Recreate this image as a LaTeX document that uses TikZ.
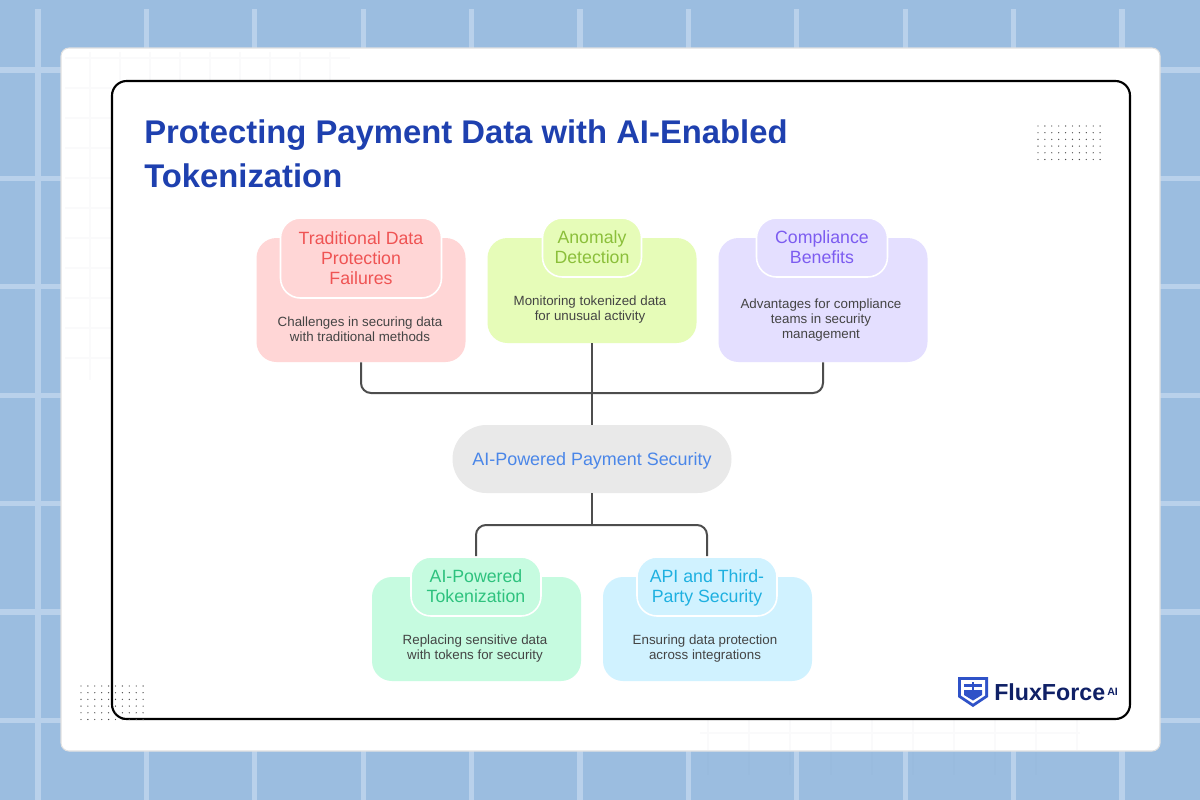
\documentclass[tikz,border=0pt]{standalone}
\usepackage{fontspec}
\setmainfont{Liberation Sans}
\usetikzlibrary{positioning}

\definecolor{bgblue}{HTML}{9BBDE0}
\definecolor{bgline}{HTML}{B9D1EB}
\definecolor{faintline}{HTML}{FAFAFB}
\definecolor{faintblue}{HTML}{99BBDE}
\definecolor{titleblue}{HTML}{1E40AF}
\definecolor{redfill}{HTML}{FFD6D6}
\definecolor{redtext}{HTML}{EF5353}
\definecolor{limefill}{HTML}{E6FCB8}
\definecolor{limetext}{HTML}{8BBF3A}
\definecolor{violetfill}{HTML}{E4DFFF}
\definecolor{violettext}{HTML}{7C5CF0}
\definecolor{mintfill}{HTML}{C6FBE0}
\definecolor{minttext}{HTML}{2EC27E}
\definecolor{skyfill}{HTML}{D0F2FF}
\definecolor{skytext}{HTML}{1EB0E0}
\definecolor{corefill}{HTML}{E9E9E9}
\definecolor{coretext}{HTML}{4A86E8}
\definecolor{desctext}{HTML}{444444}
\definecolor{linkgray}{HTML}{4D4D4D}
\definecolor{logoblue}{HTML}{2F52C8}
\definecolor{logonavy}{HTML}{0F2066}

\newcommand{\topstrut}{\rule{0pt}{13.4pt}}
\newcommand{\lowstrut}{\rule[-4pt]{0pt}{4pt}}

\tikzset{
    topicbox/.style={rounded corners=15pt, inner sep=0pt, minimum width=156.75pt},
    headbox/.style={rounded corners=15pt, inner sep=0pt, draw=white, line width=1.2pt, minimum height=44.25pt,
        align=center, font=\fontsize{13.3}{15}\selectfont},
    descnode/.style={align=center, inner sep=0pt, text=desctext, font=\fontsize{10}{11.25}\selectfont},
    link/.style={draw=linkgray, line width=1.5pt, rounded corners=7.5pt},
    griddot/.style={fill=black!70, circle, inner sep=0pt, minimum size=1pt}
}

\begin{document}
\begin{tikzpicture}[x=0.75pt,y=-0.75pt]
    \useasboundingbox (0,0) rectangle (1200,800);
    \fill[bgblue] (0,0) rectangle (1200,800);
    \foreach \gx in {38,146.4,254.8,363.2,471.6,580,688.4,796.8,905.2,1013.6,1122}
        \draw[bgline, line width=3.8pt] (\gx,9) -- (\gx,800);
    \foreach \gy in {70,178.4,286.8,395.2,503.6,612,720.4}
        \draw[bgline, line width=3.8pt] (0,\gy) -- (1200,\gy);
    \foreach \gx in {708,749,790,831,872,913,954,995,1036}
        \draw[faintblue, line width=0.8pt] (\gx,752) -- (\gx,775);

    \draw[fill=white, draw=black!12, line width=0.8pt, rounded corners=6pt] (61,48) rectangle (1160,751);
    \foreach \gx in {90,120,150,180,210,240,270,300,330}
        \draw[faintline, line width=0.8pt] (\gx,52) -- (\gx,{\gx<112 ? 380 : 80});
    \foreach \gy in {58,88,118,148,178,208,238,268,298,328,358}
        \draw[faintline, line width=0.8pt] (65,\gy) -- ({\gy<81 ? 350 : 112},\gy);
    \foreach \gx in {708,749,790,831,872,913,954,995,1036,1077}
        \draw[faintline, line width=0.8pt] (\gx,720) -- (\gx,750);
    \draw[faintline, line width=0.8pt] (700,733) -- (1080,733);

    \draw[draw=black, fill=white, line width=1.6pt, rounded corners=11pt] (112,81) rectangle (1130,719);

    \foreach \dx in {0,...,9}
        \foreach \dy in {0,...,5} {
            \node[griddot] at ({1038+6.9*\dx},{126+6.7*\dy}) {};
            \node[griddot] at ({81+6.9*\dx},{686+6.7*\dy}) {};
        }

    \node[anchor=north west, inner sep=0pt, align=left, text=titleblue,
        font=\fontsize{24.6}{33}\selectfont\bfseries] (title) at (144,119)
        {Protecting Payment Data with AI-Enabled\\Tokenization};

    \node[topicbox, fill=redfill, minimum height=93pt] (failbox) at (361,300) {};
    \node[headbox, fill=redfill, text=redtext, minimum width=120.75pt, minimum height=60pt] (failhead) at (361,258)
        {\topstrut Traditional Data\\Protection\\Failures\lowstrut};
    \node[descnode] (faildesc) at (360,329) {Challenges in securing data\\with traditional methods};

    \node[topicbox, fill=limefill, minimum height=78.75pt] (detectbox) at (592,290.5) {};
    \node[headbox, fill=limefill, text=limetext, minimum width=74.25pt] (detecthead) at (592,247.5)
        {\topstrut Anomaly\\Detection\lowstrut};
    \node[descnode] (detectdesc) at (590,310) {Monitoring tokenized data\\for unusual activity};

    \node[topicbox, fill=violetfill, minimum height=93pt] (complybox) at (823,300) {};
    \node[headbox, fill=violetfill, text=violettext, minimum width=98.25pt] (complyhead) at (822,247.5)
        {\topstrut Compliance\\Benefits\lowstrut};
    \node[descnode] (complydesc) at (821,320) {Advantages for compliance\\teams in security\\management};

    \node[rounded corners=25.5pt, inner sep=0pt, fill=corefill, minimum width=209.25pt, minimum height=51pt,
        text=coretext, text height=9pt, text depth=0pt, font=\fontsize{13.45}{15}\selectfont] (core) at (592,459)
        {AI-Powered Payment Security};

    \node[topicbox, fill=mintfill, minimum height=78pt] (tokenbox) at (476.5,629) {};
    \node[headbox, fill=mintfill, text=minttext, minimum width=97.5pt] (tokenhead) at (476,586.5)
        {\topstrut AI-Powered\\Tokenization\lowstrut};
    \node[descnode] (tokendesc) at (475,649) {Replacing sensitive data\\with tokens for security};

    \node[topicbox, fill=skyfill, minimum height=78pt] (apibox) at (707.5,629) {};
    \node[headbox, fill=skyfill, text=skytext, minimum width=105pt] (apihead) at (707,586.5)
        {\topstrut API and Third-\\Party Security\lowstrut};
    \node[descnode] (apidesc) at (705,649) {Ensuring data protection\\across integrations};

    \coordinate (topjoin) at (592,393);
    \coordinate (lowjoin) at (592,525);
    \draw[link] (failbox.south) |- (topjoin) -| (complybox.south);
    \draw[link] (detectbox.south) -- (core.north);
    \draw[link] (core.south) -- (lowjoin);
    \draw[link] (tokenhead.north) |- (lowjoin) -| (apihead.north);

    \fill[logoblue] (958,677) -- (988,677) -- (988,697) -- (973,707) -- (958,697) -- cycle;
    \fill[white] (961,680) -- (985,680) -- (985,695.5) -- (973,703.5) -- (961,695.5) -- cycle;
    \fill[logoblue] (964,690) -- (982,690) -- (982,695) -- (973,700.5) -- (964,695) -- cycle;
    \fill[logoblue] (964,684) -- (982,684) -- (982,686.5) -- (964,686.5) -- cycle;
    \fill[logoblue] (972,681.5) -- (974,681.5) -- (974,690) -- (972,690) -- cycle;
    \node[anchor=base west, inner sep=0pt, text=logonavy, font=\fontsize{17.4}{20}\selectfont\bfseries] (brand) at (994,700)
        {FluxForce};
    \node[anchor=base west, inner sep=0pt, text=logonavy, font=\fontsize{8}{9}\selectfont\bfseries] (brandai)
        at ([xshift=1.2pt,yshift=3.75pt]brand.base east) {AI};
\end{tikzpicture}
\end{document}
